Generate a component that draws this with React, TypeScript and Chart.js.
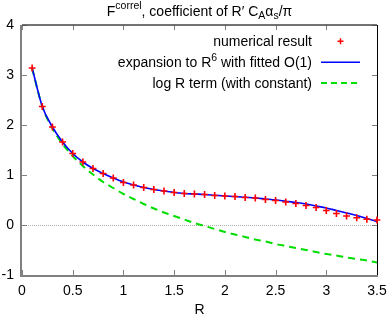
import { useEffect, useRef } from "react";
import { Chart, registerables } from "chart.js";

Chart.register(...registerables);

// ---- data ----
const rValues = [
  0.1, 0.2, 0.3, 0.4, 0.5, 0.6, 0.7, 0.8, 0.9, 1.0,
  1.1, 1.2, 1.3, 1.4, 1.5, 1.6, 1.7, 1.8, 1.9, 2.0,
  2.1, 2.2, 2.3, 2.4, 2.5, 2.6, 2.7, 2.8, 2.9, 3.0,
  3.1, 3.2, 3.3, 3.4, 3.5,
];
const numericalResult = [
  3.14, 2.37, 1.96, 1.66, 1.43, 1.26, 1.13, 1.03, 0.94, 0.85,
  0.8, 0.75, 0.71, 0.68, 0.65, 0.63, 0.62, 0.61, 0.59, 0.58,
  0.57, 0.55, 0.54, 0.51, 0.49, 0.46, 0.43, 0.39, 0.35, 0.29,
  0.23, 0.18, 0.145, 0.115, 0.1,
];
const expansionR6 = [
  3.14, 2.37, 1.96, 1.66, 1.43, 1.26, 1.13, 1.03, 0.94, 0.86,
  0.8, 0.75, 0.71, 0.68, 0.65, 0.63, 0.62, 0.61, 0.595, 0.58,
  0.57, 0.555, 0.54, 0.52, 0.5, 0.475, 0.45, 0.42, 0.38, 0.34,
  0.29, 0.24, 0.19, 0.13, 0.07,
];
const logRTerm = [
  3.13, 2.37, 1.93, 1.62, 1.38, 1.18, 1.01, 0.86, 0.74, 0.62,
  0.52, 0.42, 0.33, 0.25, 0.18, 0.11, 0.04, -0.02, -0.08, -0.14,
  -0.19, -0.24, -0.29, -0.33, -0.38, -0.42, -0.46, -0.5, -0.54, -0.58,
  -0.61, -0.65, -0.68, -0.71, -0.75,
];
const xMin = 0;
const xMax = 3.5;
const xStep = 0.5;
const yMin = -1;
const yMax = 4;
const yStep = 1;
const xAxisLabel = "R";

type Seg = { t: string; m: "n" | "sup" | "sub" };
const titleSegs: Seg[] = [
  { t: "F", m: "n" },
  { t: "correl", m: "sup" },
  { t: ", coefficient of R\u2032 C", m: "n" },
  { t: "A", m: "sub" },
  { t: "\u03b1", m: "n" },
  { t: "s", m: "sub" },
  { t: "/\u03c0", m: "n" },
];
const legendRows: { segs: Seg[]; kind: "cross" | "solid" | "dash" }[] = [
  { segs: [{ t: "numerical result", m: "n" }], kind: "cross" },
  {
    segs: [
      { t: "expansion to R", m: "n" },
      { t: "6", m: "sup" },
      { t: " with fitted O(1)", m: "n" },
    ],
    kind: "solid",
  },
  { segs: [{ t: "log R term (with constant)", m: "n" }], kind: "dash" },
];

const FONT = "'Liberation Sans', Arial, sans-serif";
const RED = "#ff0000";
const BLUE = "#0000ff";
const GREEN = "#00dd00";

function segFont(m: string) {
  return m === "n" ? `14px ${FONT}` : `10.5px ${FONT}`;
}
function segDy(m: string) {
  return m === "sup" ? -6.5 : m === "sub" ? 3.5 : 0;
}
function measureSegs(ctx: CanvasRenderingContext2D, segs: Seg[]) {
  let w = 0;
  for (const s of segs) {
    ctx.font = segFont(s.m);
    w += ctx.measureText(s.t).width;
  }
  return w;
}
function drawSegs(ctx: CanvasRenderingContext2D, segs: Seg[], x: number, y: number) {
  ctx.textAlign = "left";
  ctx.textBaseline = "alphabetic";
  ctx.fillStyle = "#000";
  for (const s of segs) {
    ctx.font = segFont(s.m);
    ctx.fillText(s.t, x, y + segDy(s.m));
    x += ctx.measureText(s.t).width;
  }
}

const decorPlugin = {
  id: "gnuplotDecor",
  beforeDatasetsDraw(chart: any) {
    const { ctx, chartArea: a, scales } = chart;
    const xs = scales.x;
    const ys = scales.y;
    ctx.save();
    // zero line
    const y0 = Math.round(ys.getPixelForValue(0)) + 0.5;
    ctx.strokeStyle = "#b0b0b0";
    ctx.lineWidth = 1;
    ctx.setLineDash([1, 1]);
    ctx.beginPath();
    ctx.moveTo(a.left, y0);
    ctx.lineTo(a.right, y0);
    ctx.stroke();
    ctx.setLineDash([]);
    // ticks
    ctx.strokeStyle = "#808080";
    ctx.lineWidth = 1;
    ctx.beginPath();
    for (const t of xs.ticks) {
      const px = Math.round(xs.getPixelForValue(t.value)) + 0.5;
      ctx.moveTo(px, a.bottom);
      ctx.lineTo(px, a.bottom - 5);
      ctx.moveTo(px, a.top);
      ctx.lineTo(px, a.top + 5);
    }
    for (const t of ys.ticks) {
      const py = Math.round(ys.getPixelForValue(t.value)) + 0.5;
      ctx.moveTo(a.left, py);
      ctx.lineTo(a.left + 5, py);
      ctx.moveTo(a.right, py);
      ctx.lineTo(a.right - 5, py);
    }
    ctx.stroke();
    // frame
    ctx.strokeStyle = "#444444";
    ctx.lineWidth = 1.5;
    ctx.beginPath();
    ctx.moveTo(a.left, a.top);
    ctx.lineTo(a.right, a.top);
    ctx.stroke();
    ctx.strokeStyle = "#000000";
    ctx.lineWidth = 1;
    ctx.beginPath();
    ctx.moveTo(a.right + 0.5, a.top);
    ctx.lineTo(a.right + 0.5, a.bottom);
    ctx.stroke();
    ctx.strokeStyle = "#808080";
    ctx.lineWidth = 2;
    ctx.beginPath();
    ctx.moveTo(a.left - 1, a.top);
    ctx.lineTo(a.left - 1, a.bottom + 1);
    ctx.lineTo(a.right + 1, a.bottom + 1);
    ctx.stroke();
    ctx.restore();
  },
  afterDraw(chart: any) {
    const { ctx, chartArea: a } = chart;
    ctx.save();
    // title
    const tw = measureSegs(ctx, titleSegs);
    drawSegs(ctx, titleSegs, (a.left + a.right) / 2 - tw / 2, 15.5);
    // x axis label
    ctx.font = `14px ${FONT}`;
    ctx.textAlign = "center";
    ctx.textBaseline = "alphabetic";
    ctx.fillStyle = "#000";
    ctx.fillText(xAxisLabel, (a.left + a.right) / 2, 313.5);
    // legend
    const textRight = 312;
    const sampleL = 321;
    const sampleR = 360;
    const rowY = [41.3, 62.3, 83];
    legendRows.forEach((row, i) => {
      const y = rowY[i];
      const w = measureSegs(ctx, row.segs);
      drawSegs(ctx, row.segs, textRight - w, y + 5);
      if (row.kind === "cross") {
        const cx = (sampleL + sampleR) / 2;
        ctx.strokeStyle = RED;
        ctx.lineWidth = 1.5;
        ctx.beginPath();
        ctx.moveTo(cx - 3, y);
        ctx.lineTo(cx + 3, y);
        ctx.moveTo(cx, y - 3);
        ctx.lineTo(cx, y + 3);
        ctx.stroke();
      } else {
        ctx.strokeStyle = row.kind === "solid" ? BLUE : GREEN;
        ctx.lineWidth = row.kind === "solid" ? 1.5 : 2;
        ctx.setLineDash(row.kind === "solid" ? [] : [6, 4]);
        ctx.beginPath();
        ctx.moveTo(sampleL, y);
        ctx.lineTo(sampleR, y);
        ctx.stroke();
        ctx.setLineDash([]);
      }
    });
    ctx.restore();
  },
};

export default function App() {
  const ref = useRef<HTMLCanvasElement | null>(null);
  useEffect(() => {
    if (!ref.current) return;
    const chart = new Chart(ref.current, {
      type: "line",
      data: {
        datasets: [
          {
            label: "numerical result",
            data: rValues.map((x, i) => ({ x, y: numericalResult[i] })),
            showLine: false,
            pointStyle: "cross",
            pointRadius: 3.4,
            pointBorderWidth: 1.6,
            borderColor: RED,
            backgroundColor: RED,
            clip: false,
            order: 1,
          },
          {
            label: "expansion to R^6 with fitted O(1)",
            data: rValues.map((x, i) => ({ x, y: expansionR6[i] })),
            borderColor: BLUE,
            borderWidth: 1.6,
            pointRadius: 0,
            cubicInterpolationMode: "monotone",
            order: 2,
          },
          {
            label: "log R term (with constant)",
            data: rValues.map((x, i) => ({ x, y: logRTerm[i] })),
            borderColor: GREEN,
            borderWidth: 2,
            borderDash: [7, 5],
            pointRadius: 0,
            cubicInterpolationMode: "monotone",
            order: 3,
          },
        ],
      },
      options: {
        responsive: false,
        animation: false,
        devicePixelRatio: 1,
        layout: { padding: { left: 0, right: 12, top: 25, bottom: 0 } },
        plugins: {
          legend: { display: false },
          title: { display: false },
          tooltip: { enabled: false },
        },
        scales: {
          x: {
            type: "linear",
            min: xMin,
            max: xMax,
            grid: { display: false, drawTicks: false },
            border: { display: false },
            ticks: {
              stepSize: xStep,
              padding: 8,
              color: "#000",
              font: { family: FONT, size: 14 },
              maxRotation: 0,
              autoSkip: false,
              callback: (v: any) => String(Math.round(Number(v) * 10) / 10),
            },
            afterFit: (s: any) => {
              s.height = 41;
              s.paddingLeft = 0;
              s.paddingRight = 0;
            },
          },
          y: {
            type: "linear",
            min: yMin,
            max: yMax,
            grid: { display: false, drawTicks: false },
            border: { display: false },
            ticks: {
              stepSize: yStep,
              padding: 8,
              color: "#000",
              font: { family: FONT, size: 14 },
              callback: (v: any) => String(Math.round(Number(v))),
            },
            afterFit: (s: any) => {
              s.width = 22;
              s.paddingTop = 0;
              s.paddingBottom = 0;
            },
          },
        },
      },
      plugins: [decorPlugin],
    } as any);
    return () => chart.destroy();
  }, []);
  return (
    <div style={{ position: "fixed", left: 0, top: 0, background: "#fff" }}>
      <canvas ref={ref} width={389} height={316} style={{ display: "block" }} />
    </div>
  );
}
